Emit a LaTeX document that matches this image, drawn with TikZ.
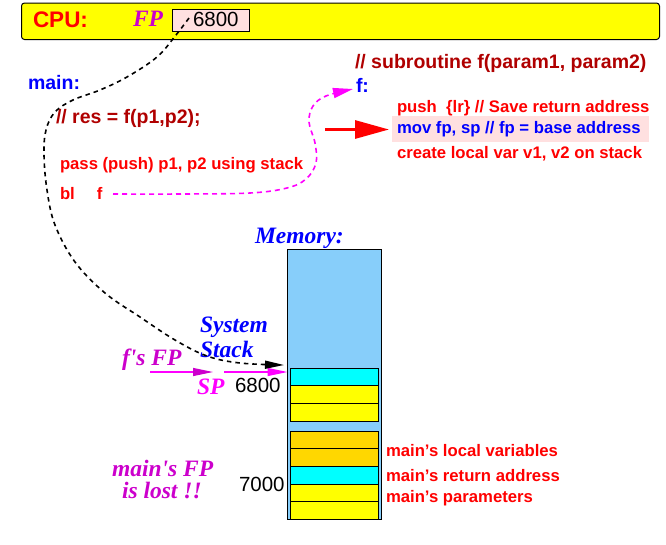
\documentclass[tikz,border=0pt]{standalone}
\usepackage{fontspec}
\setmainfont{Liberation Sans}
\newfontfamily\tbifont{Liberation Serif}
\usetikzlibrary{arrows.meta}
\definecolor{dred}{HTML}{B00000}
\definecolor{bred}{HTML}{FF0000}
\definecolor{bblue}{HTML}{0000FF}
\definecolor{bmag}{HTML}{FF00FF}
\definecolor{dmag}{HTML}{CC00CC}
\definecolor{pinkbg}{HTML}{FFE0E0}
\definecolor{memblue}{HTML}{87CEFA}
\definecolor{ccyan}{HTML}{00FFFF}
\definecolor{cgold}{HTML}{FFD700}
\definecolor{cyel}{HTML}{FFFF00}
\begin{document}
\begin{tikzpicture}[x=1pt,y=-1pt,
  txt/.style={inner sep=0pt, outer sep=0pt, anchor=base west},
  bigb/.style={txt, font=\fontsize{19.5}{23}\selectfont\bfseries},
  cpuf/.style={txt, font=\fontsize{22.5}{26}\selectfont\bfseries},
  smallb/.style={txt, font=\fontsize{16.7}{20}\selectfont\bfseries},
  num/.style={txt, font=\fontsize{20.5}{24}\selectfont},
  tbi/.style={txt, font=\tbifont\fontsize{23.5}{27}\selectfont\bfseries\itshape},
  cell/.style={draw, line width=1pt, minimum width=88.2pt, minimum height=17.67pt, inner sep=0pt, outer sep=0pt, anchor=north west},
  blackdash/.style={draw=black, line width=1.6pt, dash pattern=on 4.5pt off 4pt},
  magdash/.style={draw=bmag, line width=1.6pt, dash pattern=on 5pt off 4pt},
]
\useasboundingbox (0,0) rectangle (666,544);

% CPU bar
\node (cpu) [draw, fill=cyel, line width=1pt, rounded corners=3pt, anchor=north west, minimum width=638pt, minimum height=36.5pt, inner sep=0pt] at (21,2.5) {};
\node (cpulbl) [cpuf, text=bred] at (33,27) {CPU:};
\node (fplbl) [tbi, text=dmag] at (133,26) {FP};
\node (fpbox) [draw, fill=pinkbg, line width=1pt, anchor=north west, minimum width=77pt, minimum height=22pt, inner sep=0pt] at (171.5,8.5) {};
\node (fpval) [num] at (193,26) {6800};
\coordinate (fpstart) at (189,18);

% main code
\node (main) [bigb, text=bblue] at (28,89) {main:};
\node (res) [bigb, text=dred] at (56,123) {// res = f(p1,p2);};
\node (pass) [smallb, text=bred] at (60,169) {pass (push) p1, p2 using stack};
\node (bl) [smallb, text=bred] at (60,199) {bl\hspace*{22pt}f};

% subroutine
\node (sub) [bigb, text=dred] at (355,68) {// subroutine f(param1, param2)};
\node (flbl) [bigb, text=bblue] at (356,92) {f:};
\node (hl) [fill=pinkbg, anchor=north west, minimum width=256.5pt, minimum height=26pt, inner sep=0pt] at (392,115.7) {};
\node (push) [smallb, text=bred] at (397,112) {push\ \ \{lr\} // Save return address};
\node (mov) [smallb, text=bblue] at (397,133) {mov fp, sp // fp = base address};
\node (create) [smallb, text=bred] at (397,158) {create local var v1, v2 on stack};
\coordinate (redstart) at (325,129.5);
\coordinate (redend) at (389,129.5);
\draw[bred, line width=3pt, -{Triangle[length=34pt,width=18pt]}] (redstart) -- (redend);

% magenta dashed call curve
\coordinate (blend) at (113,194);
\coordinate (fin) at (353,89);
\draw[magdash, -{Triangle[length=20pt,width=10pt]}] plot[smooth, tension=0.6] coordinates {(blend) (180,194) (250,193) (287,188) (306,179) (316,163) (315,143) (309,122) (313,106) (326,96) (fin)};

% Memory
\node (memlbl) [tbi, text=bblue] at (255,243) {Memory:};
\node (mem) [draw, fill=memblue, line width=1.2pt, minimum width=94pt, minimum height=270pt, anchor=north west, inner sep=0pt, outer sep=0pt] at (287.5,249.5) {};
\node (c1) [cell, fill=ccyan] at (290.5,368.3) {};
\node (c2) [cell, fill=cyel] at (290.5,385.97) {};
\node (c3) [cell, fill=cyel] at (290.5,403.64) {};
\node (d1) [cell, fill=cgold] at (290.5,431) {};
\node (d2) [cell, fill=cgold] at (290.5,448.67) {};
\node (d3) [cell, fill=ccyan] at (290.5,466.34) {};
\node (d4) [cell, fill=cyel] at (290.5,484.01) {};
\node (d5) [cell, fill=cyel] at (290.5,501.68) {};

% labels near stack
\node (sys1) [tbi, text=bblue] at (200,332) {System};
\node (sys2) [tbi, text=bblue] at (200,357) {Stack};
\node (ffp) [tbi, text=dmag] at (122,365) {f's FP};
\node (sp) [tbi, text=bmag] at (197,394) {SP};
\node (v6800) [num] at (235,392) {6800};
\node (v7000) [num] at (239,491) {7000};
\node (lost1) [tbi, text=dmag] at (112,476) {main's FP};
\node (lost2) [tbi, text=dmag] at (122,498) {is lost !!};
\node (lv) [smallb, text=bred] at (386,456) {main's local variables};
\node (ra) [smallb, text=bred] at (386,481) {main's return address};
\node (pa) [smallb, text=bred] at (386,502) {main's parameters};

% magenta arrows
\coordinate (a1s) at (150,372);
\coordinate (a1e) at (213,372);
\coordinate (a2s) at (224,372);
\coordinate (a2e) at (mem.west |- a2s);
\draw[bmag, line width=1.2pt, -{Triangle[length=20pt,width=8pt,color=dmag]}] (a1s) -- (a1e);
\draw[bmag, line width=1.2pt, -{Triangle[length=20pt,width=8pt]}] (a2s) -- (a2e);

% black dashed FP curve
\coordinate (fpend) at (284,365);
\draw[blackdash, -{Triangle[length=19pt,width=8pt]}] plot[smooth, tension=0.6] coordinates {(fpstart) (176,35) (157,57) (127,77) (100,90) (73,100) (55,112) (46,130) (44,155) (47,190) (55,225) (75,262) (105,293) (140,317) (175,340) (207,356) (240,363) (fpend)};
\end{tikzpicture}
\end{document}
